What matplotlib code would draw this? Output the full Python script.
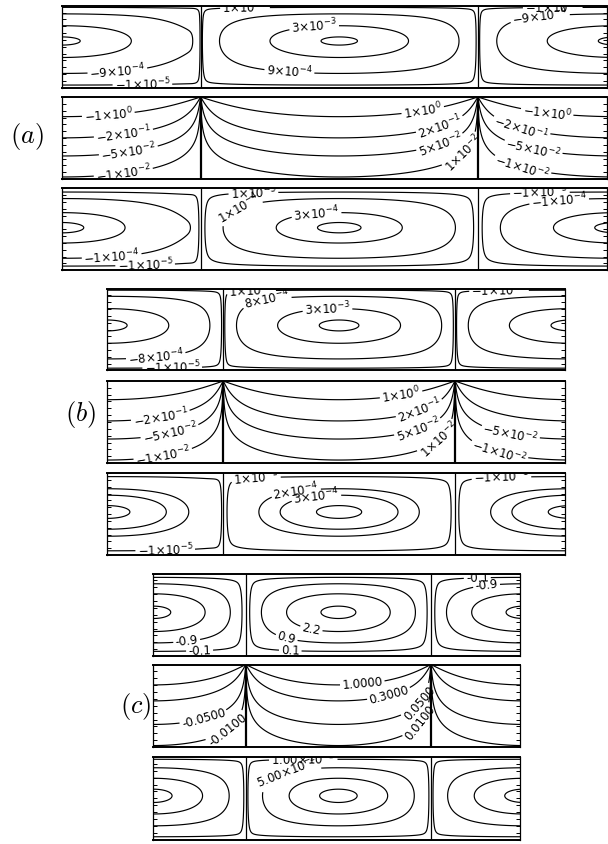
import numpy as np
import matplotlib
matplotlib.use("Agg")
import matplotlib.pyplot as plt

plt.rcParams["font.family"] = ["DejaVu Sans"]
plt.rcParams["mathtext.fontset"] = "dejavusans"
plt.rcParams["contour.negative_linestyle"] = "solid"

# ---------------- data: contour levels (positive cell; side cells use the negatives) ----------
a_psi_levels = [4.15e-3, 3.0e-3, 9.0e-4, 1.0e-5]
a_p_levels = [1.0, 2.0e-1, 5.0e-2, 1.0e-2]
a_chi_levels = [3.85e-4, 3.0e-4, 1.0e-4, 1.0e-5]

b_psi_levels = [4.3e-3, 3.0e-3, 8.0e-4, 1.0e-5]
b_p_levels = [1.0, 2.0e-1, 5.0e-2, 1.0e-2]
b_chi_levels = [4.1e-4, 3.0e-4, 2.0e-4, 1.0e-5]

c_psi_levels = [3.3, 2.2, 0.9, 0.1]
c_p_levels = [1.0, 0.3, 0.05, 0.01]
c_chi_levels = [0.17, 0.12, 0.05, 1.0e-3]

# peak amplitudes of the fields
a_amp = [4.24e-3, 3.6, 3.97e-4]
b_amp = [4.46e-3, 3.35, 4.3e-4]
c_amp = [3.45, 3.77, 0.179]

group_names = ["a", "b", "c"]


def sci(v, dec=0):
    neg = v < 0
    v = abs(v)
    e = int(np.floor(np.log10(v) + 1e-9))
    m = v / 10 ** e
    ms = f"{m:.{dec}f}"
    return r"$%s%s{\times}10^{%d}$" % ("-" if neg else "", ms, e)


def fixed(v, dec):
    return f"{v:.{dec}f}"


# ---------------- layout (pixels) ----------------
FW, FH = 608, 844
fig = plt.figure(figsize=(FW / 100, FH / 100), dpi=100)

groups = {
    "a": dict(left=62, div0=201, div1=478, right=607, tops=[5.7, 97, 188.3], h=82,
              lab=(27, 137)),
    "b": dict(left=107.3, div0=223.3, div1=455, right=565, tops=[288.5, 381, 473], h=82,
              lab=(81, 415)),
    "c": dict(left=153.3, div0=246, div1=431, right=520, tops=[573.5, 664.5, 757], h=82.5,
              lab=(136, 706)),
}


def stream(X, Y, A, yc, betas, Wpx, Hpx, dp=5.0):
    cell = np.floor(X)
    center = cell + 0.5
    t = np.clip(np.abs(X - center) / 0.5, 0, 1)
    beta = np.where(cell < 0, betas[0], np.where(cell > 0, betas[2], betas[1]))
    e = 1 - beta * t ** 8
    F = np.clip(np.cos(np.pi * t / 2), 0, None) ** e
    d = 0.5 * (1 - t) * Wpx
    Bx = 1 - np.exp(-(d / dp) ** 2)
    gam = np.log(0.5) / np.log(yc)
    G = np.clip(np.sin(np.pi * Y ** gam), 0, None) ** 1.5
    By = (1 - np.exp(-(Y * Hpx / dp) ** 2)) * (1 - np.exp(-((1 - Y) * Hpx / dp) ** 2))
    sgn = np.where(cell == 0, 1.0, -1.0)
    return sgn * A * F * Bx * G * By


def pressure(X, Y, C):
    r = np.exp(2 * np.pi * (Y - 1))
    return (2 * C / np.pi) * np.arctan2(2 * r * np.sin(np.pi * X), 1 - r ** 2)


def sym(levels):
    lv = [-v for v in levels] + list(levels)
    return sorted(lv)


# per panel settings: (kind, amp, levels, yc, betas, label-format, manual positions)
panels = {
    "a": [
        ("s", a_amp[0], a_psi_levels, 0.57, (0.63, 0.0, 0.0), lambda v: sci(v),
         [(0.41, 0.71), (0.32, 0.19), (0.16, 0.99), (-0.30, 0.19), (-0.21, 0.03),
          (1.224, 0.86), (1.27, 0.985)]),
        ("p", a_amp[1], a_p_levels, None, None, lambda v: sci(v),
         [(0.803, 0.80), (0.865, 0.63), (0.868, 0.39), (0.955, 0.29),
          (-0.334, 0.83), (-0.28, 0.60), (-0.26, 0.33), (-0.28, 0.11),
          (1.25, 0.82), (1.16, 0.67), (1.20, 0.38), (1.16, 0.15)]),
        ("s", a_amp[2], a_chi_levels, 0.52, (0.68, 0.0, 0.0), lambda v: sci(v),
         [(0.417, 0.72), (0.135, 0.77), (0.19, 0.985), (-0.32, 0.13), (-0.20, 0.04),
          (1.224, 0.89), (1.29, 0.985)]),
    ],
    "b": [
        ("s", b_amp[0], b_psi_levels, 0.55, (0.0, 0.0, 0.0), lambda v: sci(v),
         [(0.19, 0.82), (0.45, 0.73), (0.12, 0.99), (-0.29, 0.15), (-0.22, 0.03),
          (1.19, 0.99)]),
        ("p", b_amp[1], b_p_levels, None, None, lambda v: sci(v),
         [(0.77, 0.79), (0.855, 0.585), (0.85, 0.34), (0.95, 0.22),
          (-0.27, 0.56), (-0.23, 0.37), (-0.26, 0.10), (1.24, 0.37), (1.19, 0.13)]),
        ("s", b_amp[2], b_chi_levels, 0.525, (0.7, 0.0, 0.0), lambda v: sci(v),
         [(0.31, 0.86), (0.40, 0.75), (0.14, 0.99), (-0.25, 0.04), (1.20, 0.99)]),
    ],
    "c": [
        ("s", c_amp[0], c_psi_levels, 0.53, (0.0, 0.0, 0.0), lambda v: fixed(v, 1),
         [(0.352, 0.31), (0.22, 0.22), (0.24, 0.07), (-0.32, 0.19), (-0.25, 0.07),
          (1.30, 0.86), (1.25, 0.98)]),
        ("p", c_amp[1], c_p_levels, None, None, lambda v: fixed(v, 4),
         [(0.63, 0.75), (0.78, 0.57), (0.94, 0.53), (0.94, 0.30),
          (-0.22, 0.27), (-0.10, 0.22)]),
        ("s", c_amp[2], c_chi_levels, 0.53, (0.0, 0.0, 0.0), lambda v: sci(v, 2),
         [(0.22, 0.86), (0.31, 0.985)]),
    ],
}

for g in group_names:
    L = groups[g]
    cellw = L["div1"] - L["div0"]
    xl = -0.5
    xr = 1 + (L["right"] - L["div1"]) / cellw
    Wpx = L["right"] - L["left"]
    nx = int(Wpx * 2.5)
    x = np.linspace(xl, xr, nx)
    y = np.linspace(0, 1, 400)
    X, Y = np.meshgrid(x, y)
    for i, top in enumerate(L["tops"]):
        kind, amp, lev, yc, betas, fmtf, manual = panels[g][i]
        ax = fig.add_axes([L["left"] / FW, 1 - (top + L["h"]) / FH, Wpx / FW, L["h"] / FH])
        if kind == "s":
            Z = stream(X, Y, amp, yc, betas, cellw, L["h"])
        else:
            Z = pressure(X, Y, amp)
        levels = sym(lev)
        cs = ax.contour(X, Y, Z, levels=levels, colors="k", linewidths=0.85,
                        negative_linestyles="solid")
        fmt = {lv: fmtf(lv) for lv in cs.levels}
        ax.clabel(cs, levels=cs.levels, fmt=fmt, manual=manual, inline=True,
                  inline_spacing=2, fontsize=8.5)
        ax.axvline(0, color="k", lw=1.6 if kind == "p" else 0.9)
        ax.axvline(1, color="k", lw=1.6 if kind == "p" else 0.9)
        ax.set_xlim(xl, xr)
        ax.set_ylim(0, 1)
        ax.set_xticks([])
        ax.set_yticks(np.linspace(0, 1, 13))
        ax.tick_params(axis="y", direction="in", left=True, right=True,
                       labelleft=False, length=3, width=0.7)
        for s in ["top", "bottom"]:
            ax.spines[s].set_linewidth(1.4)
        for s in ["left", "right"]:
            ax.spines[s].set_linewidth(0.9)
    fig.text(L["lab"][0] / FW, 1 - L["lab"][1] / FH, r"$(%s)$" % g, fontsize=19,
             math_fontfamily="cm", ha="center", va="center")

fig.savefig("out.png", dpi=100)
